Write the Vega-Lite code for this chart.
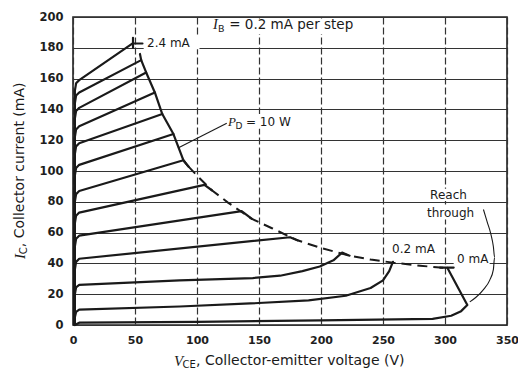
{
  "$schema": "https://vega.github.io/schema/vega-lite/v6.json",
  "width": 434,
  "height": 308,
  "autosize": {"type": "none"},
  "padding": {"left": 73, "top": 17, "right": 11, "bottom": 44},
  "background": "white",
  "config": {"view": {"stroke": "#222", "strokeWidth": 1.6}},
  "datasets": {
    "curves": [
      {"s": "2.4 mA", "o": 1, "v": 1.5, "i": 0}, {"s": "2.4 mA", "o": 2, "v": 1.5, "i": 152}, {"s": "2.4 mA", "o": 3, "v": 2.5, "i": 157}, {"s": "2.4 mA", "o": 4, "v": 5, "i": 159}, {"s": "2.4 mA", "o": 5, "v": 48.4, "i": 183},
      {"s": "2.2 mA", "o": 1, "v": 1.5, "i": 0}, {"s": "2.2 mA", "o": 2, "v": 1.5, "i": 144}, {"s": "2.2 mA", "o": 3, "v": 2.5, "i": 149}, {"s": "2.2 mA", "o": 4, "v": 5, "i": 151}, {"s": "2.2 mA", "o": 5, "v": 55, "i": 172},
      {"s": "2.0 mA", "o": 1, "v": 1.5, "i": 0}, {"s": "2.0 mA", "o": 2, "v": 1.5, "i": 134}, {"s": "2.0 mA", "o": 3, "v": 2.5, "i": 139}, {"s": "2.0 mA", "o": 4, "v": 5, "i": 141}, {"s": "2.0 mA", "o": 5, "v": 59, "i": 164},
      {"s": "1.8 mA", "o": 1, "v": 1.5, "i": 0}, {"s": "1.8 mA", "o": 2, "v": 1.5, "i": 122}, {"s": "1.8 mA", "o": 3, "v": 2.5, "i": 127}, {"s": "1.8 mA", "o": 4, "v": 5, "i": 129}, {"s": "1.8 mA", "o": 5, "v": 66, "i": 151},
      {"s": "1.6 mA", "o": 1, "v": 1.5, "i": 0}, {"s": "1.6 mA", "o": 2, "v": 1.5, "i": 111}, {"s": "1.6 mA", "o": 3, "v": 2.5, "i": 116}, {"s": "1.6 mA", "o": 4, "v": 5, "i": 118}, {"s": "1.6 mA", "o": 5, "v": 72, "i": 137},
      {"s": "1.4 mA", "o": 1, "v": 1.5, "i": 0}, {"s": "1.4 mA", "o": 2, "v": 1.5, "i": 97}, {"s": "1.4 mA", "o": 3, "v": 2.5, "i": 102}, {"s": "1.4 mA", "o": 4, "v": 5, "i": 104}, {"s": "1.4 mA", "o": 5, "v": 81, "i": 124},
      {"s": "1.2 mA", "o": 1, "v": 1.5, "i": 0}, {"s": "1.2 mA", "o": 2, "v": 1.5, "i": 80}, {"s": "1.2 mA", "o": 3, "v": 2.5, "i": 85}, {"s": "1.2 mA", "o": 4, "v": 5, "i": 87}, {"s": "1.2 mA", "o": 5, "v": 89, "i": 107}, {"s": "1.2 mA", "o": 6, "v": 93, "i": 103},
      {"s": "1.0 mA", "o": 1, "v": 1.5, "i": 0}, {"s": "1.0 mA", "o": 2, "v": 1.5, "i": 66}, {"s": "1.0 mA", "o": 3, "v": 2.5, "i": 71}, {"s": "1.0 mA", "o": 4, "v": 5, "i": 73}, {"s": "1.0 mA", "o": 5, "v": 106, "i": 91}, {"s": "1.0 mA", "o": 6, "v": 112, "i": 87.5},
      {"s": "0.8 mA", "o": 1, "v": 1.5, "i": 0}, {"s": "0.8 mA", "o": 2, "v": 1.5, "i": 51}, {"s": "0.8 mA", "o": 3, "v": 2.5, "i": 56}, {"s": "0.8 mA", "o": 4, "v": 5, "i": 58}, {"s": "0.8 mA", "o": 5, "v": 136, "i": 74}, {"s": "0.8 mA", "o": 6, "v": 144, "i": 69},
      {"s": "0.6 mA", "o": 1, "v": 1.5, "i": 0}, {"s": "0.6 mA", "o": 2, "v": 1.5, "i": 36}, {"s": "0.6 mA", "o": 3, "v": 2.5, "i": 41}, {"s": "0.6 mA", "o": 4, "v": 5, "i": 43}, {"s": "0.6 mA", "o": 5, "v": 175, "i": 57}, {"s": "0.6 mA", "o": 6, "v": 181, "i": 55},
      {"s": "0.4 mA", "o": 1, "v": 1.5, "i": 0}, {"s": "0.4 mA", "o": 2, "v": 1.5, "i": 20}, {"s": "0.4 mA", "o": 3, "v": 2.5, "i": 24.5}, {"s": "0.4 mA", "o": 4, "v": 5, "i": 26}, {"s": "0.4 mA", "o": 5, "v": 86, "i": 29}, {"s": "0.4 mA", "o": 6, "v": 145, "i": 30.5}, {"s": "0.4 mA", "o": 7, "v": 167, "i": 32}, {"s": "0.4 mA", "o": 8, "v": 185, "i": 35}, {"s": "0.4 mA", "o": 9, "v": 199, "i": 38}, {"s": "0.4 mA", "o": 10, "v": 210, "i": 42}, {"s": "0.4 mA", "o": 11, "v": 217, "i": 47}, {"s": "0.4 mA", "o": 12, "v": 223, "i": 45},
      {"s": "0.2 mA", "o": 1, "v": 1.5, "i": 0}, {"s": "0.2 mA", "o": 2, "v": 1.5, "i": 5}, {"s": "0.2 mA", "o": 3, "v": 2.5, "i": 8.5}, {"s": "0.2 mA", "o": 4, "v": 5, "i": 10}, {"s": "0.2 mA", "o": 5, "v": 86, "i": 12}, {"s": "0.2 mA", "o": 6, "v": 143, "i": 14}, {"s": "0.2 mA", "o": 7, "v": 190, "i": 16}, {"s": "0.2 mA", "o": 8, "v": 220, "i": 19}, {"s": "0.2 mA", "o": 9, "v": 240, "i": 24}, {"s": "0.2 mA", "o": 10, "v": 250, "i": 29}, {"s": "0.2 mA", "o": 11, "v": 255, "i": 35}, {"s": "0.2 mA", "o": 12, "v": 258, "i": 41},
      {"s": "0 mA", "o": 1, "v": 1.5, "i": 0}, {"s": "0 mA", "o": 2, "v": 5, "i": 1.5}, {"s": "0 mA", "o": 3, "v": 100, "i": 2}, {"s": "0 mA", "o": 4, "v": 200, "i": 3}, {"s": "0 mA", "o": 5, "v": 290, "i": 4}, {"s": "0 mA", "o": 6, "v": 305, "i": 6}, {"s": "0 mA", "o": 7, "v": 313, "i": 9}, {"s": "0 mA", "o": 8, "v": 318, "i": 13}, {"s": "0 mA", "o": 9, "v": 302, "i": 37},
      {"s": "envelope", "o": 1, "v": 54, "i": 176}, {"s": "envelope", "o": 2, "v": 55, "i": 172}, {"s": "envelope", "o": 3, "v": 59, "i": 164}, {"s": "envelope", "o": 4, "v": 66, "i": 151}, {"s": "envelope", "o": 5, "v": 72, "i": 137}, {"s": "envelope", "o": 6, "v": 81, "i": 124}, {"s": "envelope", "o": 7, "v": 89, "i": 107}, {"s": "envelope", "o": 8, "v": 93, "i": 103},
      {"s": "tick 2.4", "o": 1, "v": 48.4, "i": 180}, {"s": "tick 2.4", "o": 2, "v": 48.4, "i": 186.5},
      {"s": "leader 2.4", "o": 1, "v": 48.4, "i": 182.8}, {"s": "leader 2.4", "o": 2, "v": 56, "i": 182.8},
      {"s": "reach top", "o": 1, "v": 296, "i": 37.3}, {"s": "reach top", "o": 2, "v": 307, "i": 37.3}
    ],
    "pd": [
      {"v": 93, "i": 103}, {"v": 100, "i": 97}, {"v": 112, "i": 87.5}, {"v": 125, "i": 79.5}, {"v": 144, "i": 69}, {"v": 160, "i": 63}, {"v": 181, "i": 55}, {"v": 200, "i": 50}, {"v": 223, "i": 45}, {"v": 240, "i": 42.5}, {"v": 258, "i": 40.5}, {"v": 280, "i": 38.5}, {"v": 300, "i": 37}
    ],
    "thin": [
      {"s": "pd leader", "o": 1, "v": 84.7, "i": 115}, {"s": "pd leader", "o": 2, "v": 124, "i": 131},
      {"s": "arc", "o": 1, "v": 331, "i": 75}, {"s": "arc", "o": 2, "v": 334, "i": 67}, {"s": "arc", "o": 3, "v": 337, "i": 59}, {"s": "arc", "o": 4, "v": 339, "i": 51}, {"s": "arc", "o": 5, "v": 340, "i": 44}, {"s": "arc", "o": 6, "v": 339, "i": 36}, {"s": "arc", "o": 7, "v": 336, "i": 29}, {"s": "arc", "o": 8, "v": 331, "i": 23}, {"s": "arc", "o": 9, "v": 325, "i": 18}, {"s": "arc", "o": 10, "v": 320, "i": 15}
    ],
    "boxes": [
      {"v": 110, "v2": 236, "i": 189, "i2": 199},
      {"v": 57, "v2": 102, "i": 179, "i2": 187},
      {"v": 123, "v2": 178, "i": 127.5, "i2": 137},
      {"v": 255, "v2": 298, "i": 45.5, "i2": 53.5},
      {"v": 307, "v2": 336, "i": 39, "i2": 47},
      {"v": 286, "v2": 320, "i": 80.5, "i2": 88.5},
      {"v": 284, "v2": 326, "i": 68.5, "i2": 77}
    ],
    "texts": [
      {"r": "top", "t": "= 0.2 mA per step", "v": 126, "i": 195},
      {"r": "topI", "t": "I", "v": 112.9, "i": 195},
      {"r": "topS", "t": "B", "v": 117, "i": 192.2},
      {"r": "lab", "t": "2.4 mA", "v": 59.7, "i": 183},
      {"r": "labI", "t": "P", "v": 125, "i": 132},
      {"r": "labS", "t": "D", "v": 131, "i": 129.4},
      {"r": "lab", "t": "= 10 W", "v": 139.5, "i": 132},
      {"r": "lab", "t": "0.2 mA", "v": 257.3, "i": 49.4},
      {"r": "lab", "t": "0 mA", "v": 309.7, "i": 42.9},
      {"r": "lab", "t": "Reach", "v": 288, "i": 84.4},
      {"r": "lab", "t": "through", "v": 285.5, "i": 72.7},
      {"r": "xt", "t": ", Collector-emitter voltage (V)", "v": 99.2, "i": -23.4},
      {"r": "xtI", "t": "V", "v": 81.5, "i": -23.4},
      {"r": "xtS", "t": "CE", "v": 88.4, "i": -26.0},
      {"r": "yt", "t": ", Collector current (mA)", "v": -42.7, "i": 50.5},
      {"r": "ytI", "t": "I", "v": -42.7, "i": 42.9},
      {"r": "ytS", "t": "C", "v": -39.5, "i": 45.9}
    ]
  },
  "encoding": {
    "x": {
      "field": "v", "type": "quantitative",
      "scale": {"domain": [0, 350], "nice": false, "zero": false},
      "axis": {"values": [0, 50, 100, 150, 200, 250, 300, 350], "title": null, "grid": true, "gridDash": [7, 3], "gridColor": "#333", "gridWidth": 1.2, "domain": false, "ticks": false, "labelFont": "DejaVu Sans", "labelFontSize": 11, "labelFontWeight": "bold", "labelColor": "#1e1e1e", "labelPadding": 9, "labelFlush": false}
    },
    "y": {
      "field": "i", "type": "quantitative",
      "scale": {"domain": [0, 200], "nice": false, "zero": false},
      "axis": {"values": [0, 20, 40, 60, 80, 100, 120, 140, 160, 180, 200], "title": null, "grid": true, "gridColor": "#333", "gridWidth": 1.2, "domain": false, "ticks": false, "labelFont": "DejaVu Sans", "labelFontSize": 11.5, "labelFontWeight": "bold", "labelColor": "#1e1e1e", "labelPadding": 10, "labelFlush": false}
    }
  },
  "layer": [
    {
      "data": {"name": "boxes"},
      "mark": {"type": "rect", "color": "white"},
      "encoding": {"x2": {"field": "v2"}, "y2": {"field": "i2"}}
    },
    {
      "data": {"name": "pd"},
      "mark": {"type": "line", "color": "#1a1a1a", "strokeWidth": 2, "strokeDash": [10, 6]},
      "encoding": {}
    },
    {
      "data": {"name": "thin"},
      "mark": {"type": "line", "color": "#1a1a1a", "strokeWidth": 1.1, "interpolate": "monotone"},
      "encoding": {"detail": {"field": "s"}, "order": {"field": "o"}}
    },
    {
      "data": {"name": "curves"},
      "mark": {"type": "line", "color": "#1a1a1a", "strokeWidth": 2.2, "strokeJoin": "round", "strokeCap": "round"},
      "encoding": {"detail": {"field": "s"}, "order": {"field": "o"}}
    },
    {
      "data": {"name": "texts"},
      "transform": [{"filter": "datum.r == 'lab'"}],
      "mark": {"type": "text", "align": "left", "baseline": "middle", "font": "DejaVu Sans", "fontSize": 12, "color": "#1a1a1a"},
      "encoding": {"text": {"field": "t"}}
    },
    {
      "data": {"name": "texts"},
      "transform": [{"filter": "datum.r == 'labI'"}],
      "mark": {"type": "text", "align": "left", "baseline": "middle", "font": "Liberation Serif", "fontStyle": "italic", "fontSize": 13, "color": "#1a1a1a"},
      "encoding": {"text": {"field": "t"}}
    },
    {
      "data": {"name": "texts"},
      "transform": [{"filter": "datum.r == 'labS'"}],
      "mark": {"type": "text", "align": "left", "baseline": "middle", "font": "DejaVu Sans", "fontSize": 9, "color": "#1a1a1a"},
      "encoding": {"text": {"field": "t"}}
    },
    {
      "data": {"name": "texts"},
      "transform": [{"filter": "datum.r == 'top'"}],
      "mark": {"type": "text", "align": "left", "baseline": "middle", "font": "DejaVu Sans", "fontSize": 13.5, "color": "#1a1a1a"},
      "encoding": {"text": {"field": "t"}}
    },
    {
      "data": {"name": "texts"},
      "transform": [{"filter": "datum.r == 'topI'"}],
      "mark": {"type": "text", "align": "left", "baseline": "middle", "font": "Liberation Serif", "fontStyle": "italic", "fontSize": 14.5, "color": "#1a1a1a"},
      "encoding": {"text": {"field": "t"}}
    },
    {
      "data": {"name": "texts"},
      "transform": [{"filter": "datum.r == 'topS'"}],
      "mark": {"type": "text", "align": "left", "baseline": "middle", "font": "DejaVu Sans", "fontSize": 9.5, "color": "#1a1a1a"},
      "encoding": {"text": {"field": "t"}}
    },
    {
      "data": {"name": "texts"},
      "transform": [{"filter": "datum.r == 'xt'"}],
      "mark": {"type": "text", "align": "left", "baseline": "middle", "font": "DejaVu Sans", "fontSize": 14, "color": "#1a1a1a"},
      "encoding": {"text": {"field": "t"}}
    },
    {
      "data": {"name": "texts"},
      "transform": [{"filter": "datum.r == 'xtI'"}],
      "mark": {"type": "text", "align": "left", "baseline": "middle", "font": "Liberation Serif", "fontStyle": "italic", "fontSize": 15, "color": "#1a1a1a"},
      "encoding": {"text": {"field": "t"}}
    },
    {
      "data": {"name": "texts"},
      "transform": [{"filter": "datum.r == 'xtS'"}],
      "mark": {"type": "text", "align": "left", "baseline": "middle", "font": "DejaVu Sans", "fontSize": 10, "color": "#1a1a1a"},
      "encoding": {"text": {"field": "t"}}
    },
    {
      "data": {"name": "texts"},
      "transform": [{"filter": "datum.r == 'yt'"}],
      "mark": {"type": "text", "align": "left", "baseline": "middle", "angle": 270, "font": "DejaVu Sans", "fontSize": 14, "color": "#1a1a1a"},
      "encoding": {"text": {"field": "t"}}
    },
    {
      "data": {"name": "texts"},
      "transform": [{"filter": "datum.r == 'ytI'"}],
      "mark": {"type": "text", "align": "left", "baseline": "middle", "angle": 270, "font": "Liberation Serif", "fontStyle": "italic", "fontSize": 15, "color": "#1a1a1a"},
      "encoding": {"text": {"field": "t"}}
    },
    {
      "data": {"name": "texts"},
      "transform": [{"filter": "datum.r == 'ytS'"}],
      "mark": {"type": "text", "align": "left", "baseline": "middle", "angle": 270, "font": "DejaVu Sans", "fontSize": 10, "color": "#1a1a1a"},
      "encoding": {"text": {"field": "t"}}
    }
  ]
}
